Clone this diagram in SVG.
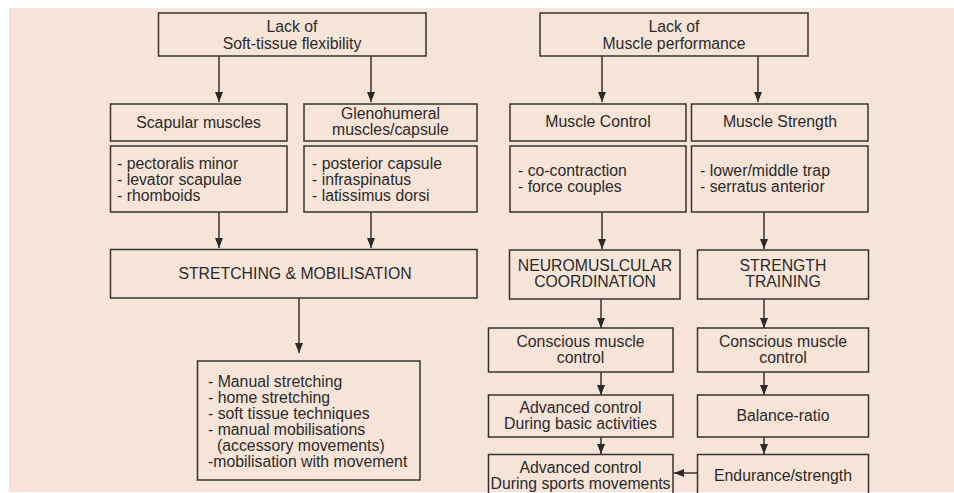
<svg xmlns="http://www.w3.org/2000/svg" width="954" height="493" viewBox="0 0 954 493">
<style>
.b{fill:none;stroke:#333;stroke-width:1.5}
.t{font-family:"Liberation Sans",Arial,sans-serif;font-size:15.8px;fill:#2a2a2a}
.c{text-anchor:middle}
.a{fill:none;stroke:#333;stroke-width:1.5;marker-end:url(#ah)}
</style>
<defs>
<marker id="ah" markerUnits="userSpaceOnUse" markerWidth="10" markerHeight="10" viewBox="0 0 10 10" refX="10" refY="5" orient="auto">
<path d="M0,1 L10,5 L0,9 Z" fill="#2a2a2a"/>
</marker>
</defs>
<rect x="0" y="0" width="954" height="493" fill="#fff"/>
<rect x="9" y="8" width="945" height="484" fill="#f7e4d9"/>

<g id="connectors">
<line class="a" x1="219" y1="56" x2="219" y2="102"/>
<line class="a" x1="371" y1="56" x2="371" y2="102"/>
<line class="a" x1="602" y1="56" x2="602" y2="102"/>
<line class="a" x1="758" y1="56" x2="758" y2="102"/>
<line class="a" x1="219" y1="212" x2="219" y2="248"/>
<line class="a" x1="371" y1="212" x2="371" y2="248"/>
<line class="a" x1="602" y1="212" x2="602" y2="249"/>
<line class="a" x1="764" y1="212" x2="764" y2="249"/>
<line class="a" x1="299" y1="298" x2="299" y2="353"/>
<line class="a" x1="601" y1="299" x2="601" y2="328"/>
<line class="a" x1="764" y1="299" x2="764" y2="328"/>
<line class="a" x1="601" y1="372" x2="601" y2="395"/>
<line class="a" x1="764" y1="372" x2="764" y2="395"/>
<line class="a" x1="601" y1="437" x2="601" y2="454"/>
<line class="a" x1="764" y1="437" x2="764" y2="454"/>
<line class="a" x1="697" y1="473" x2="674" y2="473"/>
</g>

<g id="lack-flex">
<rect class="b" x="158.5" y="13" width="267.5" height="43"/>
<text class="t c" x="292" y="32">Lack of</text>
<text class="t c" x="292" y="48.5">Soft-tissue flexibility</text>
</g>
<g id="lack-perf">
<rect class="b" x="540" y="13" width="268" height="43"/>
<text class="t c" x="674" y="32">Lack of</text>
<text class="t c" x="674" y="48.5">Muscle performance</text>
</g>

<g id="scapular">
<rect class="b" x="110.5" y="104" width="176.5" height="37"/>
<text class="t c" x="198.5" y="128">Scapular muscles</text>
</g>
<g id="gleno">
<rect class="b" x="304" y="104" width="173" height="37"/>
<text class="t c" x="390.5" y="119">Glenohumeral</text>
<text class="t c" x="390.5" y="135">muscles/capsule</text>
</g>
<g id="control">
<rect class="b" x="510" y="104" width="176" height="37"/>
<text class="t c" x="598" y="127">Muscle Control</text>
</g>
<g id="strength">
<rect class="b" x="691.5" y="104" width="176.5" height="37"/>
<text class="t c" x="780" y="127">Muscle Strength</text>
</g>

<g id="scapular-list">
<rect class="b" x="110.5" y="146" width="176.5" height="66"/>
<text class="t" x="117" y="169">- pectoralis minor</text>
<text class="t" x="117" y="185">- levator scapulae</text>
<text class="t" x="117" y="200.5">- rhomboids</text>
</g>
<g id="gleno-list">
<rect class="b" x="304" y="146" width="173" height="66"/>
<text class="t" x="312" y="169">- posterior capsule</text>
<text class="t" x="312" y="185">- infraspinatus</text>
<text class="t" x="312" y="200.5">- latissimus dorsi</text>
</g>
<g id="control-list">
<rect class="b" x="510" y="146" width="176" height="66"/>
<text class="t" x="518" y="176">- co-contraction</text>
<text class="t" x="518" y="192">- force couples</text>
</g>
<g id="strength-list">
<rect class="b" x="691.5" y="146" width="176.5" height="66"/>
<text class="t" x="700" y="176">- lower/middle trap</text>
<text class="t" x="700" y="192">- serratus anterior</text>
</g>

<g id="stretching">
<rect class="b" x="110.5" y="249.5" width="366.5" height="48.5"/>
<text class="t c" x="295" y="279">STRETCHING &amp; MOBILISATION</text>
</g>
<g id="stretch-list">
<rect class="b" x="197.5" y="361" width="222.5" height="119"/>
<text class="t" x="208" y="387">- Manual stretching</text>
<text class="t" x="208" y="403">- home stretching</text>
<text class="t" x="208" y="419">- soft tissue techniques</text>
<text class="t" x="208" y="435">- manual mobilisations</text>
<text class="t" x="217" y="451">(accessory movements)</text>
<text class="t" x="208" y="467">-mobilisation with movement</text>
</g>

<g id="neuro">
<rect class="b" x="509.5" y="250" width="170.5" height="49"/>
<text class="t c" x="595" y="271">NEUROMUSLCULAR</text>
<text class="t c" x="595" y="287">COORDINATION</text>
</g>
<g id="strength-training">
<rect class="b" x="697.5" y="250" width="171" height="49"/>
<text class="t c" x="783" y="271">STRENGTH</text>
<text class="t c" x="783" y="287">TRAINING</text>
</g>

<g id="conscious-left">
<rect class="b" x="488.5" y="328" width="184.5" height="44"/>
<text class="t c" x="580.5" y="347">Conscious muscle</text>
<text class="t c" x="580.5" y="363">control</text>
</g>
<g id="conscious-right">
<rect class="b" x="697.5" y="328" width="171" height="44"/>
<text class="t c" x="783" y="347">Conscious muscle</text>
<text class="t c" x="783" y="363">control</text>
</g>

<g id="adv-basic">
<rect class="b" x="488.5" y="395" width="184.5" height="42"/>
<text class="t c" x="580.5" y="413">Advanced control</text>
<text class="t c" x="580.5" y="429">During basic activities</text>
</g>
<g id="balance">
<rect class="b" x="697.5" y="395" width="171" height="42"/>
<text class="t c" x="783" y="421">Balance-ratio</text>
</g>

<g id="adv-sports">
<rect class="b" x="488.5" y="454.5" width="184.5" height="50"/>
<text class="t c" x="580.5" y="473">Advanced control</text>
<text class="t c" x="580.5" y="489">During sports movements</text>
</g>
<g id="endurance">
<rect class="b" x="697.5" y="454.5" width="171" height="50"/>
<text class="t c" x="783" y="481">Endurance/strength</text>
</g>
</svg>
